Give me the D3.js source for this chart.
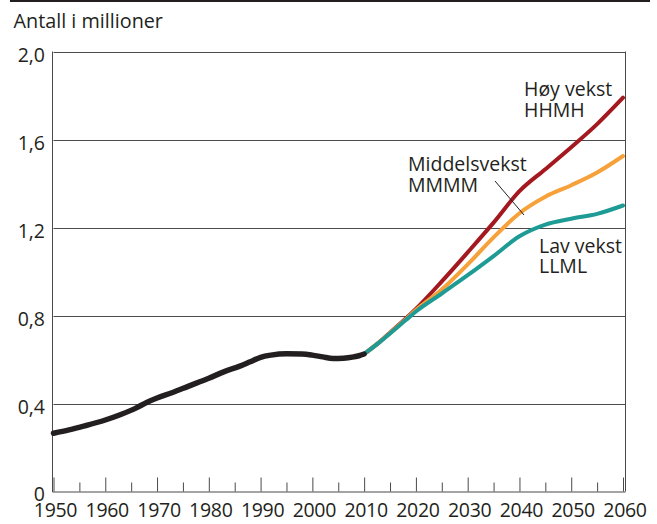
<!DOCTYPE html>
<html>
<head>
<meta charset="utf-8">
<script src="https://cdn.jsdelivr.net/npm/d3@7"></script>
<style>
  html, body { margin: 0; padding: 0; background: #fff; }
  svg { display: block; }
  text { font-family: "Open Sans", "Noto Sans", sans-serif; fill: #231f20; }
</style>
</head>
<body>
<svg id="chart" width="657" height="524"></svg>
<script>
// ---- data ----
const histYears  = [1950,1953,1956,1960,1963,1966,1968,1970,1973,1976,1980,1983,1986,1988,1990,1992,1995,1998,2000,2002,2004,2006,2008,2009,2010];
const histValues = [0.265,0.28,0.298,0.325,0.35,0.38,0.405,0.425,0.45,0.478,0.515,0.545,0.57,0.59,0.61,0.62,0.626,0.625,0.62,0.612,0.605,0.606,0.612,0.617,0.625];

const projYears = [2010,2013,2015,2018,2020,2025,2030,2035,2040,2045,2050,2055,2060];
const highValues = [0.625,0.68,0.722,0.785,0.83,0.955,1.087,1.222,1.365,1.465,1.565,1.67,1.79];
const midValues  = [0.625,0.68,0.72,0.782,0.825,0.918,1.032,1.155,1.265,1.34,1.392,1.45,1.525];
const lowValues  = [0.625,0.679,0.718,0.778,0.818,0.9,0.983,1.07,1.16,1.213,1.24,1.262,1.30];

const yTicks = [0, 0.4, 0.8, 1.2, 1.6, 2.0];
const yTickLabels = ["0", "0,4", "0,8", "1,2", "1,6", "2,0"];
const xLabelYears = [1950,1960,1970,1980,1990,2000,2010,2020,2030,2040,2050,2060];
const seriesNames = ["Høy vekst", "Middelsvekst", "Lav vekst"];
const seriesCodes = ["HHMH", "MMMM", "LLML"];
const title = "Antall i millioner";

// ---- layout ----
const svg = d3.select("#chart");
const pLeft = 53.5, pRight = 623, pTop = 51.5, pBottom = 491.5;
const x = d3.scaleLinear().domain([1950, 2060]).range([pLeft, pRight]);
const y = d3.scaleLinear().domain([0, 2.0]).range([pBottom, pTop]);

// top rule
svg.append("line").attr("x1", 10).attr("x2", 650).attr("y1", 1).attr("y2", 1)
  .attr("stroke", "#231f20").attr("stroke-width", 2);

// title
svg.append("text").attr("x", 13.5).attr("y", 27.5).attr("font-size", 19.8).text(title);

// gridlines
svg.append("g").selectAll("line").data(yTicks.filter(d => d > 0)).join("line")
  .attr("x1", pLeft).attr("x2", 625.5)
  .attr("y1", d => Math.round(y(d)) + 0.5).attr("y2", d => Math.round(y(d)) + 0.5)
  .attr("stroke", "#4a4a4a").attr("stroke-width", 1);

// right border
svg.append("line").attr("x1", 625.5).attr("x2", 625.5).attr("y1", pTop).attr("y2", pBottom)
  .attr("stroke", "#4a4a4a").attr("stroke-width", 1);

// y axis line
svg.append("line").attr("x1", 52.5).attr("x2", 52.5).attr("y1", pTop).attr("y2", pBottom + 0.5)
  .attr("stroke", "#4a4a4a").attr("stroke-width", 1);

// bottom axis with ticks via d3 axis
const xAxis = d3.axisTop(x)
  .tickValues(d3.range(1950, 2061, 5))
  .tickSize(0).tickFormat("");
const gx = svg.append("g").attr("transform", `translate(0,${pBottom})`).call(xAxis);
gx.select(".domain").attr("stroke", "#4a4a4a").attr("d", `M${52.5},0.5H${625.5}`);
gx.selectAll(".tick line")
  .attr("y2", d => d % 10 === 0 ? -14 : -9)
  .attr("stroke", "#4a4a4a");

// x labels
svg.append("g").selectAll("text").data(xLabelYears).join("text")
  .attr("x", d => x(d) + 2).attr("y", 516.5)
  .attr("text-anchor", "middle").attr("font-size", 19.5)
  .attr("letter-spacing", "-0.3")
  .text(d => d);

// y labels
svg.append("g").selectAll("text").data(yTicks).join("text")
  .attr("x", 45).attr("y", (d, i) => d === 0 ? 500.5 : y(d) + 10.5)
  .attr("text-anchor", "end").attr("font-size", 19.5)
  .text((d, i) => yTickLabels[i]);

// lines
const line = d3.line().x(d => x(d[0])).y(d => y(d[1])).curve(d3.curveMonotoneX);
const zip = (a, b) => a.map((v, i) => [v, b[i]]);

const proj = [
  {vals: highValues, color: "#a3191f"},
  {vals: midValues,  color: "#f7a13a"},
  {vals: lowValues,  color: "#1e9b95"}
];
svg.append("g").selectAll("path").data(proj).join("path")
  .attr("d", d => line(zip(projYears, d.vals)))
  .attr("fill", "none").attr("stroke", d => d.color)
  .attr("stroke-width", 4).attr("stroke-linecap", "round").attr("stroke-linejoin", "round");

svg.append("path").attr("d", line(zip(histYears, histValues)))
  .attr("fill", "none").attr("stroke", "#231f20").attr("stroke-width", 5.5)
  .attr("stroke-linecap", "round").attr("stroke-linejoin", "round");

// annotations
const ann = svg.append("g").attr("font-size", 19.5);
ann.append("text").attr("x", 524).attr("y", 96).text(seriesNames[0]);
ann.append("text").attr("x", 524).attr("y", 117).text(seriesCodes[0]);
ann.append("text").attr("x", 408).attr("y", 171).text(seriesNames[1]);
ann.append("text").attr("x", 408).attr("y", 192).text(seriesCodes[1]);
ann.append("text").attr("x", 539).attr("y", 253).text(seriesNames[2]);
ann.append("text").attr("x", 539).attr("y", 273).text(seriesCodes[2]);
svg.append("line").attr("x1", 495).attr("y1", 181).attr("x2", 524).attr("y2", 215)
  .attr("stroke", "#231f20").attr("stroke-width", 1);
</script>
</body>
</html>
